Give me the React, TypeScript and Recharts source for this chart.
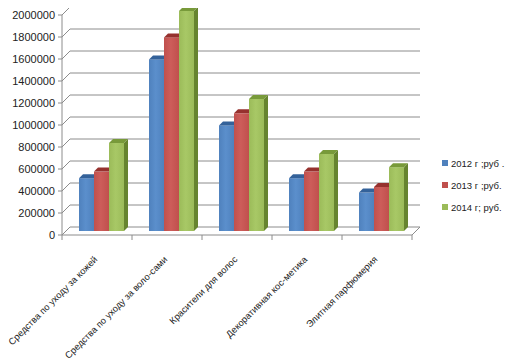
import * as React from "react";
import { BarChart, Bar, XAxis, YAxis, CartesianGrid, Legend } from "recharts";

const categories = [
  "Средства по уходу за кожей",
  "Средства по уходу за воло-сами",
  "Красители для волос",
  "Декоративная кос-метика",
  "Элитная парфюмерия",
];
const y2012 = [480000, 1560000, 960000, 480000, 350000];
const y2013 = [540000, 1760000, 1070000, 540000, 400000];
const y2014 = [800000, 2000000, 1200000, 700000, 580000];
const seriesNames = ["2012 г ;руб .", "2013 г ;руб.", "2014 г; руб."];
const yTicks = [0, 200000, 400000, 600000, 800000, 1000000, 1200000, 1400000, 1600000, 1800000, 2000000];

const data = categories.map((name, i) => ({ name, a: y2012[i], b: y2013[i], c: y2014[i] }));

const FONT = "'Liberation Sans', Arial, sans-serif";
const DEPTH = 8; // back wall offset
const SHIFT = 4; // bars sit mid-depth
const BD = 4; // bar depth

const palette = [
  { front: "#4F81BD", light: "#5B8FCC", top: "#34629A", side: "#2F5889" },
  { front: "#C0504D", light: "#CD5D5A", top: "#96312E", side: "#8A2E2B" },
  { front: "#9BBB59", light: "#A8C866", top: "#789A3A", side: "#66842F" },
];

function bar3d(idx: number) {
  return (props: any) => {
    const { x, y, width: w, height: h } = props;
    if (h == null || w == null) return <g />;
    const c = palette[idx];
    const fx = x + SHIFT;
    const fy = y - SHIFT;
    return (
      <g>
        <rect x={fx} y={fy} width={w} height={h} fill={`url(#bg${idx})`} />
        <polygon
          points={`${fx},${fy} ${fx + BD},${fy - BD} ${fx + w + BD},${fy - BD} ${fx + w},${fy}`}
          fill={c.top}
        />
        <polygon
          points={`${fx + w},${fy} ${fx + w + BD},${fy - BD} ${fx + w + BD},${fy + h - BD} ${fx + w},${fy + h}`}
          fill={c.side}
        />
      </g>
    );
  };
}

function gridLine(props: any) {
  const { x1, x2, y1, index } = props;
  const bottom = y1 >= 226;
  return (
    <g key={`gl-${index}-${y1}`}>
      <path
        d={`M${x1},${y1} L${x1 + DEPTH},${y1 - DEPTH} L${x2 + DEPTH},${y1 - DEPTH}`}
        stroke="#8c8c8c"
        strokeWidth={1}
        fill="none"
      />
      {bottom && (
        <path d={`M${x2},${y1} L${x2 + DEPTH},${y1 - DEPTH}`} stroke="#8c8c8c" strokeWidth={1} fill="none" />
      )}
    </g>
  );
}

function XTick(props: any) {
  const { x, y, payload, index } = props;
  const half = payload?.offset || 35;
  const tx = x + 1;
  const ty = y + 17;
  return (
    <g>
      <line x1={x - half} y1={y - 8} x2={x - half} y2={y - 3} stroke="#8c8c8c" />
      {index === categories.length - 1 && (
        <line x1={x + half} y1={y - 8} x2={x + half} y2={y - 3} stroke="#8c8c8c" />
      )}
      <text
        x={tx}
        y={ty}
        transform={`rotate(-45, ${tx}, ${ty})`}
        textAnchor="end"
        fontSize={9.3}
        fontFamily={FONT}
        fill="#222"
      >
        {payload.value}
      </text>
    </g>
  );
}

function LegendBox(props: any) {
  const items = props.payload || [];
  return (
    <div style={{ fontFamily: FONT, fontSize: 9.5, color: "#222" }}>
      {items.map((it: any, i: number) => (
        <div key={i} style={{ display: "flex", alignItems: "center", height: 22, whiteSpace: "pre" }}>
          <span
            style={{ width: 6, height: 6, background: palette[i].front, marginRight: 3, flex: "none" }}
          />
          <span style={{ flex: "none" }}>{it.value}</span>
        </div>
      ))}
    </div>
  );
}

export default function App() {
  return (
    <div style={{ width: 507, height: 354 }}>
      <BarChart
        width={507}
        height={354}
        data={data}
        margin={{ top: 7, right: 103, left: 0, bottom: 0 }}
        barGap={0}
        barSize={15}
      >
        <defs>
          {palette.map((c, i) => (
            <linearGradient key={i} id={`bg${i}`} x1="0" y1="0" x2="1" y2="0">
              <stop offset="0%" stopColor={c.front} />
              <stop offset="45%" stopColor={c.light} />
              <stop offset="100%" stopColor={c.front} />
            </linearGradient>
          ))}
        </defs>
        <CartesianGrid vertical={false} horizontal={gridLine} />
        <XAxis
          dataKey="name"
          height={127}
          interval={0}
          axisLine={{ stroke: "#8c8c8c" }}
          tickLine={false}
          tick={<XTick />}
        />
        <YAxis
          width={54}
          domain={[0, 2000000]}
          ticks={yTicks}
          interval={0}
          axisLine={{ stroke: "#8c8c8c" }}
          tickLine={{ stroke: "#8c8c8c" }}
          tickSize={4}
          tickMargin={3}
          tick={{ fontSize: 11, fontFamily: FONT, fill: "#222" }}
        />
        <Legend
          layout="vertical"
          align="center"
          verticalAlign="middle"
          wrapperStyle={{ left: 434, top: 144, width: 70 }}
          content={<LegendBox />}
        />
        <Bar dataKey="a" name={seriesNames[0]} fill={palette[0].front} shape={bar3d(0)} isAnimationActive={false} />
        <Bar dataKey="b" name={seriesNames[1]} fill={palette[1].front} shape={bar3d(1)} isAnimationActive={false} />
        <Bar dataKey="c" name={seriesNames[2]} fill={palette[2].front} shape={bar3d(2)} isAnimationActive={false} />
      </BarChart>
    </div>
  );
}
